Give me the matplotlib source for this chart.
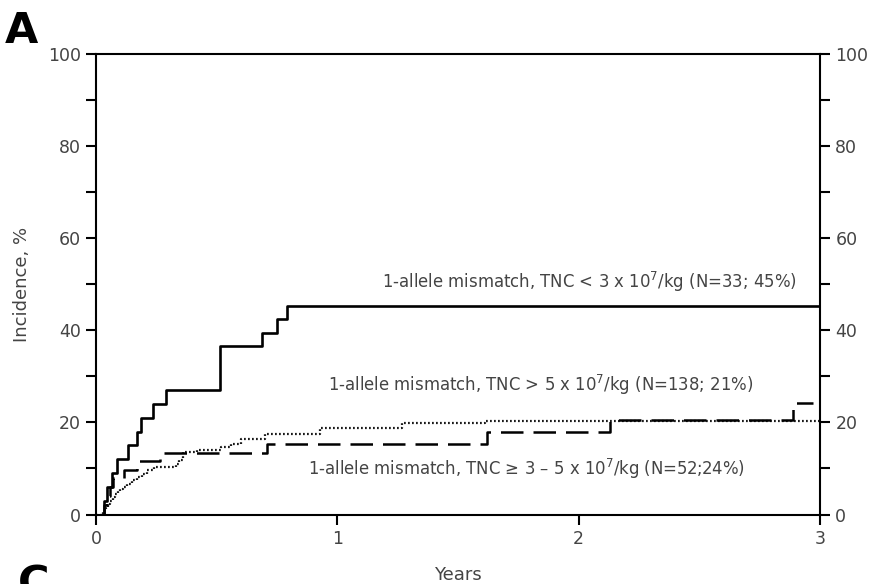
import matplotlib
matplotlib.use("Agg")
import matplotlib.pyplot as plt
from matplotlib.ticker import MultipleLocator

# years / cumulative incidence (%)
t_low = [0, 0.033, 0.045, 0.068, 0.089, 0.134, 0.17, 0.185, 0.235, 0.29, 0.515, 0.69, 0.75, 0.79, 3.0]
inc_low = [0, 3, 6, 9, 12, 15, 18, 21, 24, 27, 36.5, 39.4, 42.4, 45.3, 45.3]

t_high = [0, 0.03, 0.04, 0.05, 0.06, 0.07, 0.08, 0.09, 0.10, 0.11, 0.13, 0.15, 0.17, 0.19,
          0.21, 0.24, 0.33, 0.345, 0.36, 0.42, 0.52, 0.56, 0.60, 0.70, 0.93, 1.27, 1.61, 3.0]
inc_high = [0, 0.7, 1.5, 2.2, 2.9, 3.7, 4.4, 5.1, 5.6, 6.0, 6.6, 7.5, 8.1, 8.8,
            9.6, 10.4, 11.0, 11.8, 13.6, 14.1, 14.6, 15.4, 16.5, 17.4, 18.8, 19.8, 20.4, 20.4]

t_mid = [0, 0.035, 0.045, 0.06, 0.07, 0.117, 0.17, 0.265, 0.71, 1.62, 2.13, 2.89, 2.97]
inc_mid = [0, 2, 4, 6, 8, 9.6, 11.6, 13.4, 15.4, 17.9, 20.6, 24.2, 24.2]

labels = ['1-allele mismatch, TNC < 3 x 10$^7$/kg (N=33; 45%)',
          '1-allele mismatch, TNC > 5 x 10$^7$/kg (N=138; 21%)',
          '1-allele mismatch, TNC \u2265 3 \u2013 5 x 10$^7$/kg (N=52;24%)']

fig = plt.figure(figsize=(8.74, 5.84), dpi=100)
ax = fig.add_axes([0.1098, 0.119, 0.8284, 0.7885])

ax.step(t_low, inc_low, where='post', color='black', lw=1.9)
ax.step(t_high, inc_high, where='post', color='#1a1a1a', lw=1.6, linestyle=(0, (0.8, 1.0)))
ax.step(t_mid, inc_mid, where='post', color='black', lw=1.8, linestyle=(0, (9, 4)))

txt = '#444444'
ax.text(2.905, 50.5, labels[0], ha='right', va='center', fontsize=11.9, color=txt)
ax.text(2.723, 28.2, labels[1], ha='right', va='center', fontsize=11.9, color=txt)
ax.text(2.69, 9.9, labels[2], ha='right', va='center', fontsize=11.9, color=txt)

ax.set_xlim(0, 3)
ax.set_ylim(0, 100)
ax.xaxis.set_major_locator(MultipleLocator(1))
ax.yaxis.set_major_locator(MultipleLocator(20))
ax.yaxis.set_minor_locator(MultipleLocator(10))
ax.tick_params(axis='y', which='both', direction='out', length=7, width=1.5,
               left=True, right=True, labelleft=True, labelright=True,
               labelsize=12.5, labelcolor=txt, pad=4)
ax.tick_params(axis='x', direction='out', length=7, width=1.5, labelsize=12.5,
               labelcolor=txt, pad=4)
for s in ax.spines.values():
    s.set_linewidth(1.5)

ax.set_ylabel('Incidence, %', fontsize=13, color=txt, labelpad=12)
fig.text(0.524, 0.0, 'Years', ha='center', va='bottom', fontsize=13, color=txt)
fig.text(0.006, 0.926, 'A', fontsize=31, fontweight='bold', ha='left', va='baseline')
fig.text(0.02, -0.021, 'C', fontsize=31, fontweight='bold', ha='left', va='baseline')

fig.savefig('out.png', dpi=100)
